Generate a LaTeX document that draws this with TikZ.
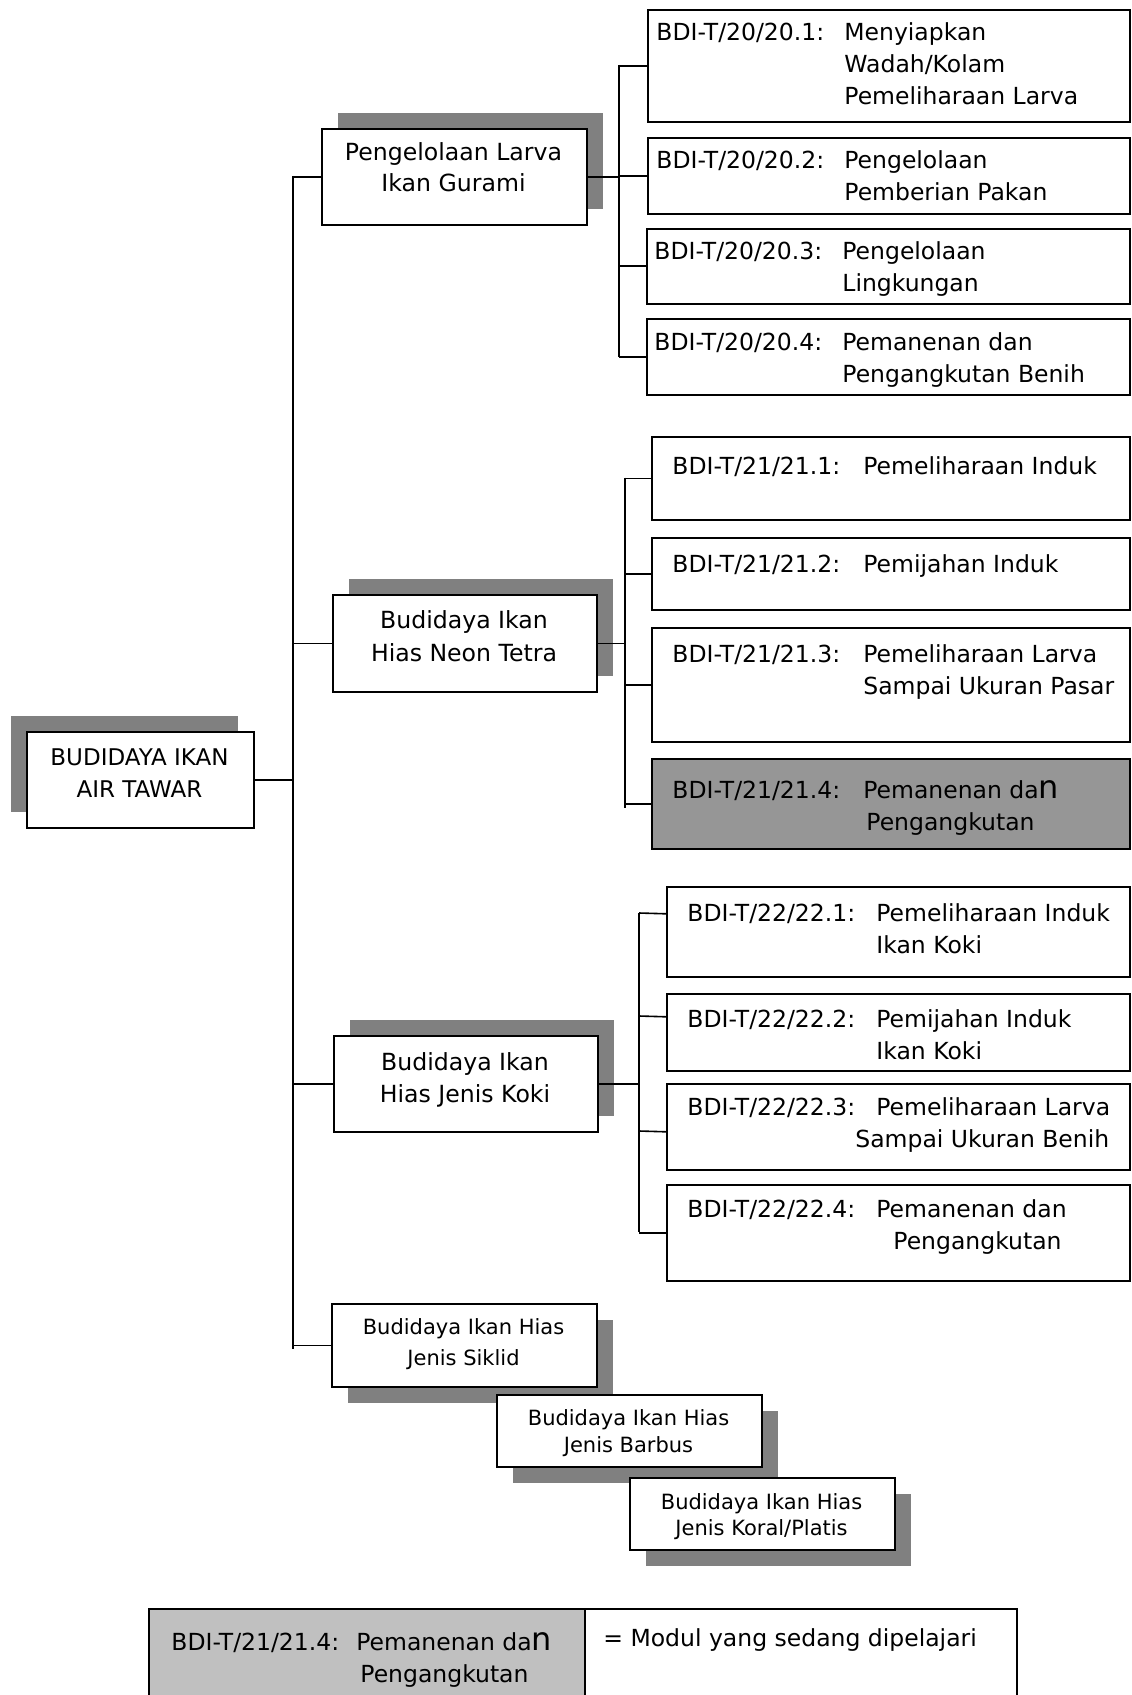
\documentclass[tikz,border=0pt]{standalone}
\usepackage{fontspec}
\setmainfont{DejaVu Sans}
\usetikzlibrary{shadows}

\definecolor{shadowgray}{HTML}{808080}
\definecolor{activegray}{HTML}{969696}
\definecolor{legendgray}{HTML}{C0C0C0}

\newcommand{\modul}[3]{\begin{tabular}[t]{@{}l@{}l@{}}\makebox[#1][l]{#2}&#3\end{tabular}}
\newcommand{\judul}[1]{\begin{tabular}[t]{@{}c@{}}#1\end{tabular}}
\newcommand{\bign}{{\fontsize{16pt}{16pt}\selectfont n}}

\tikzset{
    box/.style = {draw, line width = 0.8pt, fill = white, inner sep = 0pt, anchor = north west},
    shadowNE/.style = {drop shadow = {shadow xshift = 8pt, shadow yshift = 8pt, opacity = 1, fill = shadowgray}},
    shadowNW/.style = {drop shadow = {shadow xshift = -8pt, shadow yshift = 8pt, opacity = 1, fill = shadowgray}},
    shadowSE/.style = {drop shadow = {shadow xshift = 8pt, shadow yshift = -8pt, opacity = 1, fill = shadowgray}},
    link/.style = {line width = 0.8pt},
    headtext/.style 2 args = {inner sep = 0pt, anchor = base, font = \fontsize{#1}{#2}\selectfont},
    modtext/.style = {inner sep = 0pt, anchor = base west, font = \fontsize{11.75pt}{16pt}\selectfont}
}

\begin{document}
\begin{tikzpicture}[x = 0.5pt, y = -0.5pt]
    \useasboundingbox (0, 0) rectangle (1131, 1695);

    % program
    \node[box, shadowNW, minimum width = 113.5pt, minimum height = 48pt] (root) at (26, 731) {};
    \node[headtext = {11.5pt}{16pt}] (t-root) at (139.5, 765) {\judul{BUDIDAYA IKAN\\AIR TAWAR}};

    % kompetensi
    \node[box, shadowNE, minimum width = 132.5pt, minimum height = 48pt] (gurami) at (321, 128) {};
    \node[headtext = {11.8pt}{15.5pt}] (t-gurami) at (453.5, 161) {\judul{Pengelolaan Larva\\Ikan Gurami}};

    \node[box, shadowNE, minimum width = 132pt, minimum height = 48.5pt] (neon) at (332, 594) {};
    \node[headtext = {11.8pt}{16.5pt}] (t-neon) at (464, 628) {\judul{Budidaya Ikan\\Hias Neon Tetra}};

    \node[box, shadowNE, minimum width = 132pt, minimum height = 48pt] (koki) at (333, 1035) {};
    \node[headtext = {11.8pt}{16pt}] (t-koki) at (465, 1070) {\judul{Budidaya Ikan\\Hias Jenis Koki}};

    \node[box, shadowSE, minimum width = 132.5pt, minimum height = 41.5pt] (siklid) at (331, 1303) {};
    \node[headtext = {10.5pt}{15.5pt}] (t-siklid) at (463.5, 1334) {\judul{Budidaya Ikan Hias\\Jenis Siklid}};

    \node[box, shadowSE, minimum width = 132.5pt, minimum height = 36pt] (barbus) at (496, 1394) {};
    \node[headtext = {10.5pt}{13.5pt}] (t-barbus) at (628.5, 1425) {\judul{Budidaya Ikan Hias\\Jenis Barbus}};

    \node[box, shadowSE, minimum width = 132.5pt, minimum height = 36pt] (koral) at (629, 1477) {};
    \node[headtext = {10.5pt}{13pt}] (t-koral) at (761.5, 1509) {\judul{Budidaya Ikan Hias\\Jenis Koral/Platis}};

    % modul 20
    \node[box, minimum width = 241pt, minimum height = 56pt] (m201) at (647, 9) {};
    \node[modtext] (t201) at (656, 41) {\modul{94pt}{BDI-T/20/20.1:}{Menyiapkan\\&Wadah/Kolam\\&Pemeliharaan Larva}};
    \node[box, minimum width = 241pt, minimum height = 38pt] (m202) at (647, 137) {};
    \node[modtext] (t202) at (656, 169) {\modul{94pt}{BDI-T/20/20.2:}{Pengelolaan\\&Pemberian Pakan}};
    \node[box, minimum width = 241.5pt, minimum height = 37.5pt] (m203) at (646, 228) {};
    \node[modtext] (t203) at (654, 260) {\modul{94pt}{BDI-T/20/20.3:}{Pengelolaan\\&Lingkungan}};
    \node[box, minimum width = 241.5pt, minimum height = 38pt] (m204) at (646, 318) {};
    \node[modtext] (t204) at (654, 351) {\modul{94pt}{BDI-T/20/20.4:}{Pemanenan dan\\&Pengangkutan Benih}};

    % modul 21
    \node[box, minimum width = 239pt, minimum height = 41.5pt] (m211) at (651, 436) {};
    \node[modtext] (t211) at (672, 474) {\modul{95.5pt}{BDI-T/21/21.1:}{Pemeliharaan Induk}};
    \node[box, minimum width = 239pt, minimum height = 36pt] (m212) at (651, 537) {};
    \node[modtext] (t212) at (672, 572) {\modul{95.5pt}{BDI-T/21/21.2:}{Pemijahan Induk}};
    \node[box, minimum width = 239pt, minimum height = 57pt] (m213) at (651, 627) {};
    \node[modtext] (t213) at (672, 662) {\modul{95.5pt}{BDI-T/21/21.3:}{Pemeliharaan Larva\\&Sampai Ukuran Pasar}};
    \node[box, fill = activegray, minimum width = 239pt, minimum height = 45pt] (m214) at (651, 758) {};
    \node[modtext] (t214) at (672, 798) {\modul{95.5pt}{BDI-T/21/21.4:}{Pemanenan da\bign\\&\hspace{1.5pt}Pengangkutan}};

    % modul 22
    \node[box, minimum width = 231.5pt, minimum height = 45pt] (m221) at (666, 886) {};
    \node[modtext] (t221) at (687, 921) {\modul{94.5pt}{BDI-T/22/22.1:}{Pemeliharaan Induk\\&Ikan Koki}};
    \node[box, minimum width = 231.5pt, minimum height = 38.5pt] (m222) at (666, 993) {};
    \node[modtext] (t222) at (687, 1027) {\modul{94.5pt}{BDI-T/22/22.2:}{Pemijahan Induk\\&Ikan Koki}};
    \node[box, minimum width = 231.5pt, minimum height = 43pt] (m223) at (666, 1083) {};
    \node[modtext] (t223) at (687, 1115) {\modul{94.5pt}{BDI-T/22/22.3:}{Pemeliharaan Larva\\&\hspace{-10.5pt}Sampai Ukuran Benih}};
    \node[box, minimum width = 231.5pt, minimum height = 48pt] (m224) at (666, 1184) {};
    \node[modtext] (t224) at (687, 1217) {\modul{94.5pt}{BDI-T/22/22.4:}{Pemanenan dan\\&\hspace{8.5pt}Pengangkutan}};

    % garis
    \coordinate (trunk top) at (293, 176);
    \coordinate (trunk bottom) at (293, 1349);
    \draw[link] (trunk top) -- (trunk bottom);
    \draw[link] (root.east) -- (root.east -| trunk top);
    \foreach \n in {gurami, neon, koki, siklid}
        \draw[link] (trunk top |- \n.west) -- (\n.west);

    \coordinate (sub20 top) at (619, 65);
    \coordinate (sub20 bottom) at (619, 357);
    \draw[link] (sub20 top) -- (sub20 bottom);
    \draw[link] (gurami.east) -- (gurami.east -| sub20 top);
    \foreach \n in {m201, m202, m203, m204}
        \draw[link] (sub20 top |- \n.west) -- (\n.west);

    \coordinate (sub21 top) at (625, 477.5);
    \coordinate (sub21 bottom) at (625, 808);
    \draw[link] (sub21 top) -- (sub21 bottom);
    \draw[link] (neon.east) -- (neon.east -| sub21 top);
    \foreach \n in {m211, m212, m213, m214}
        \draw[link] (sub21 top |- \n.west) -- (\n.west);

    \coordinate (sub22 top) at (639, 913);
    \coordinate (sub22 bottom) at (639, 1232);
    \draw[link] (sub22 top) -- (sub22 bottom);
    \draw[link] (koki.east) -- (koki.east -| sub22 top);
    \draw[link] (sub22 top) -- ([yshift = 9pt]m221.west);
    \draw[link] (sub22 top |- 0, 1016) -- ([yshift = 7.75pt]m222.west);
    \draw[link] (sub22 top |- 0, 1131) -- ([yshift = -2.5pt]m223.west);
    \draw[link] (sub22 top |- m224.west) -- (m224.west);

    % keterangan
    \node[box, fill = legendgray, minimum width = 218pt, minimum height = 46pt] (legend key) at (148, 1608) {};
    \node[box, minimum width = 216pt, minimum height = 46pt] (legend note) at (584, 1608) {};
    \node[modtext] (t-legend key) at (171, 1650) {\modul{92.5pt}{BDI-T/21/21.4:}{Pemanenan da\bign\\&\hspace{2pt}Pengangkutan}};
    \node[modtext] (t-legend note) at (603, 1646) {= Modul yang sedang dipelajari};
\end{tikzpicture}
\end{document}
